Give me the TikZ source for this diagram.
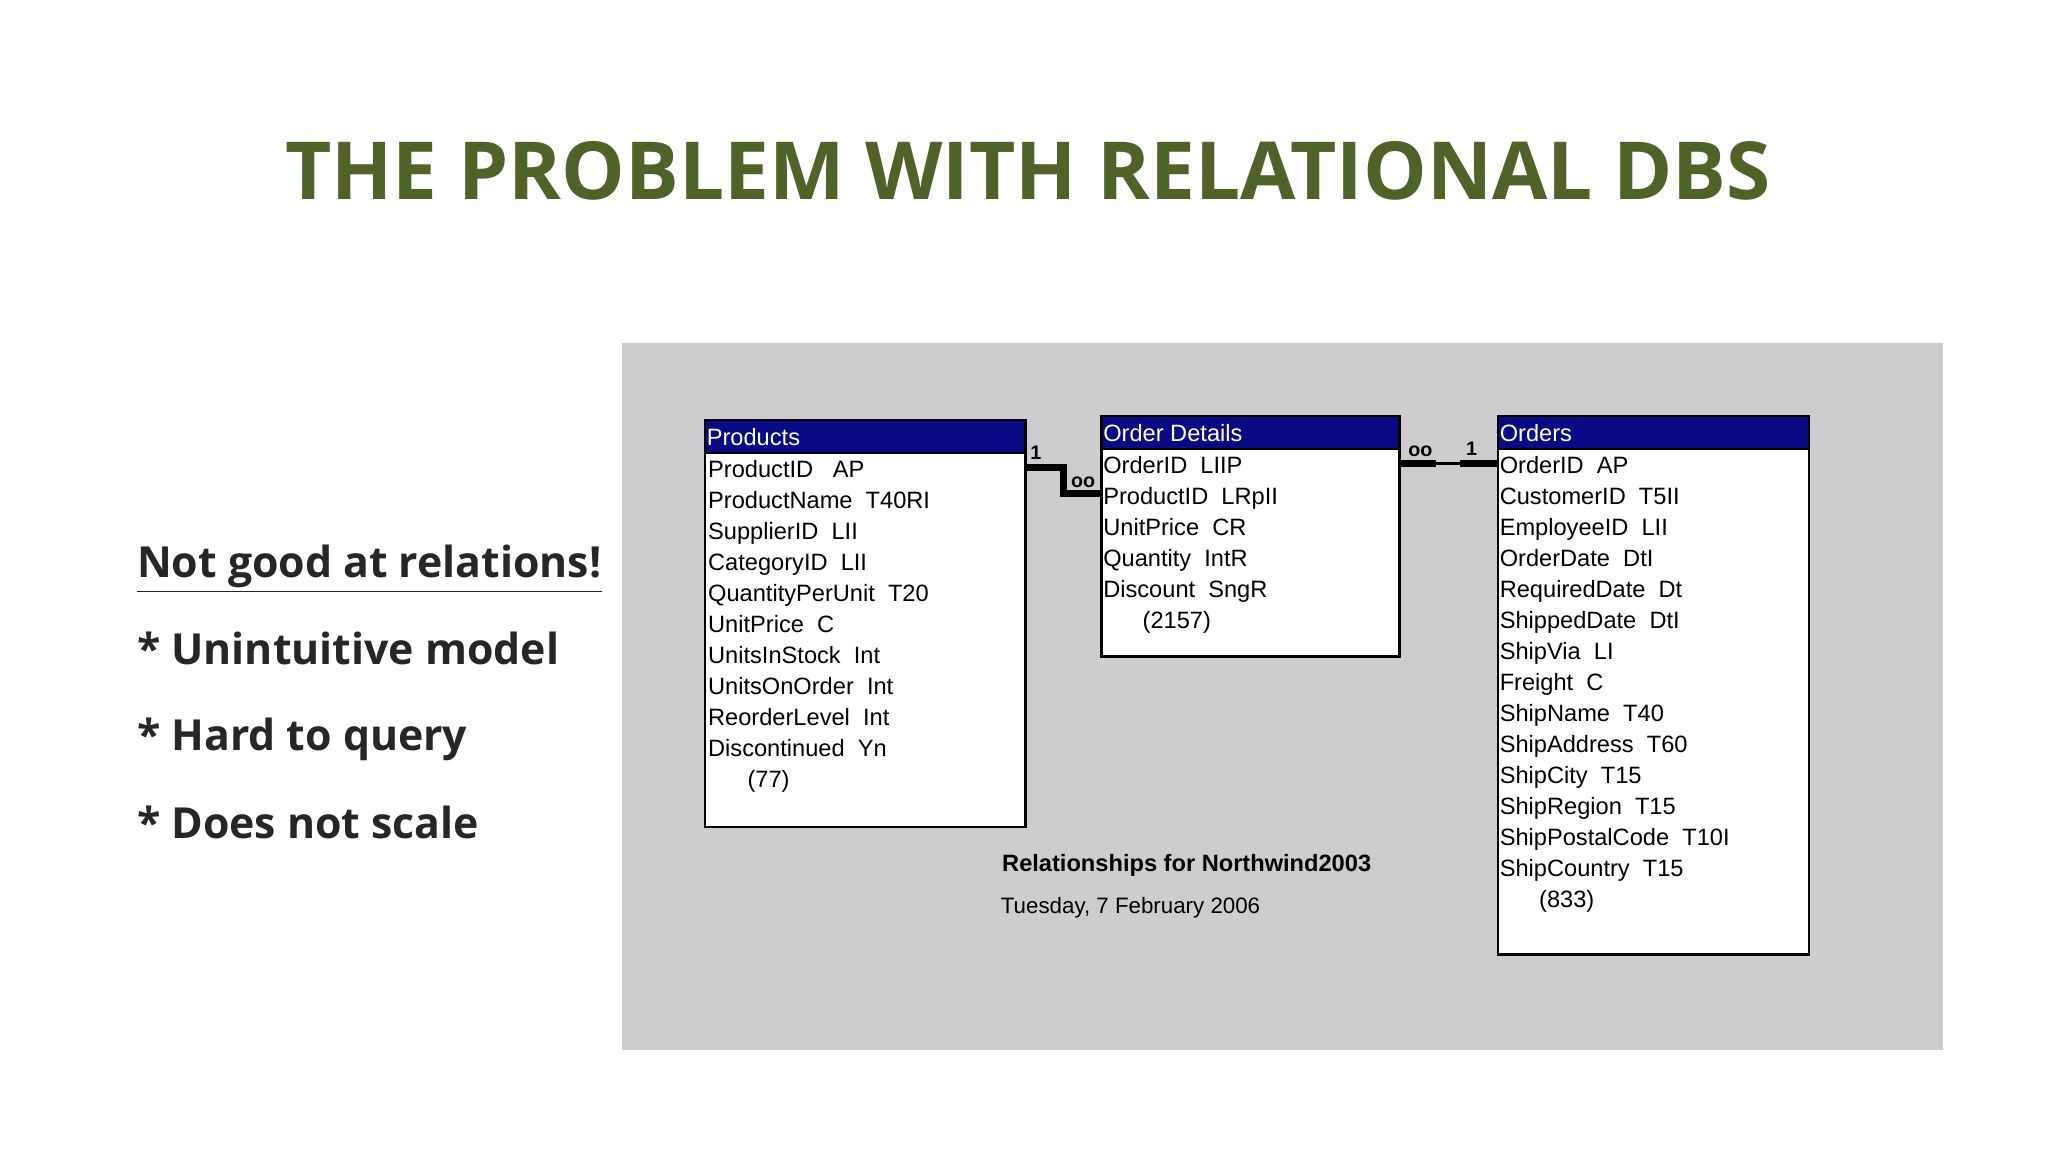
\documentclass[tikz,border=0pt]{standalone}
\usepackage{fontspec}
\setmainfont{Open Sans}
\newfontfamily\tabfont{Liberation Sans}
\definecolor{olive}{HTML}{4F6228}
\definecolor{navy}{HTML}{0A0A84}
\definecolor{panel}{HTML}{CDCCCF}
\begin{document}
\begin{tikzpicture}[x=0.5pt,y=-0.5pt,
  tbl/.style={draw=black,line width=1pt,fill=white,inner sep=0pt},
  hdr/.style={draw=black,line width=1pt,fill=navy,inner sep=0pt},
  htext/.style={anchor=base west,inner sep=0pt,text=white,font=\tabfont\fontsize{9}{11}\selectfont},
  row/.style={anchor=base west,inner sep=0pt,font=\tabfont\fontsize{9}{11}\selectfont},
  bullet/.style={anchor=base west,inner sep=0pt,text=black!85,font=\fontsize{16.3}{20}\selectfont\bfseries},
  card/.style={inner sep=0pt,font=\tabfont\bfseries\fontsize{7.5}{8}\selectfont},
  rel/.style={line width=1pt}]
\useasboundingbox (0,0) rectangle (1560,877.5);
\fill[white] (0,0) rectangle (1560,877.5);
\fill[panel] (474,261) rectangle (1480,800);
\node[text=olive,font=\fontsize{30.5}{36}\selectfont\bfseries] (title) at (783,130) {THE PROBLEM WITH RELATIONAL DBS};
\node[bullet] (l1) at (104,440) {\underline{Not good at relations!}};
\node[bullet] (l2) at (104,506) {* Unintuitive model};
\node[bullet] (l3) at (104,572) {* Hard to query};
\node[bullet] (l4) at (104,639) {* Does not scale};
% Products
\draw[tbl] (537,345) rectangle (781,630);
\draw[hdr] (537,320) rectangle (781,345);
\node[htext] (ph) at (538,339) {Products};
\foreach \t [count=\i] in {ProductID\ \ \ AP,ProductName\ \ T40RI,SupplierID\ \ LII,CategoryID\ \ LII,QuantityPerUnit\ \ T20,UnitPrice\ \ C,UnitsInStock\ \ Int,UnitsOnOrder\ \ Int,ReorderLevel\ \ Int,Discontinued\ \ Yn,\ \ \ \ \ \ (77)}
  \node[row] (p\i) at (539,364+23.6*\i-23.6) {\t};
% Order Details
\draw[tbl] (839,342) rectangle (1066,500);
\draw[hdr] (839,317) rectangle (1066,342);
\node[htext] (oh) at (840,336) {Order Details};
\foreach \t [count=\i] in {OrderID\ \ LIIP,ProductID\ \ LRpII,UnitPrice\ \ CR,Quantity\ \ IntR,Discount\ \ SngR,\ \ \ \ \ \ (2157)}
  \node[row] (d\i) at (840,361+23.6*\i-23.6) {\t};
% Orders
\draw[tbl] (1141,342) rectangle (1378,727);
\draw[hdr] (1141,317) rectangle (1378,342);
\node[htext] (rh) at (1142,336) {Orders};
\foreach \t [count=\i] in {OrderID\ \ AP,CustomerID\ \ T5II,EmployeeID\ \ LII,OrderDate\ \ DtI,RequiredDate\ \ Dt,ShippedDate\ \ DtI,ShipVia\ \ LI,Freight\ \ C,ShipName\ \ T40,ShipAddress\ \ T60,ShipCity\ \ T15,ShipRegion\ \ T15,ShipPostalCode\ \ T10I,ShipCountry\ \ T15,\ \ \ \ \ \ (833)}
  \node[row] (r\i) at (1142,361+23.6*\i-23.6) {\t};
% relations
\coordinate (a1) at (781,356);
\coordinate (a2) at (839,376);
\draw[line width=2.5pt] (a1) -- (810,356) -- (810,376) -- (a2);
\node[card] (c1) at (789,345) {1};
\node[card] (c2) at (825,367) {oo};
\coordinate (b1) at (1066,353);
\coordinate (b2) at (1141,353);
\draw[rel] (b1) -- (b2);
\draw[line width=2.5pt] (b1) -- (1094,353);
\draw[line width=2.5pt] (1112,353) -- (b2);
\node[card] (c3) at (1082,344) {oo};
\node[card] (c4) at (1121,342) {1};
% caption
\node[anchor=base west,inner sep=0pt,font=\tabfont\bfseries\fontsize{9}{11}\selectfont] (cap) at (763,664) {Relationships for Northwind2003};
\node[anchor=base west,inner sep=0pt,font=\tabfont\fontsize{8.5}{11}\selectfont] (date) at (762,696) {Tuesday, 7 February 2006};
\end{tikzpicture}
\end{document}
